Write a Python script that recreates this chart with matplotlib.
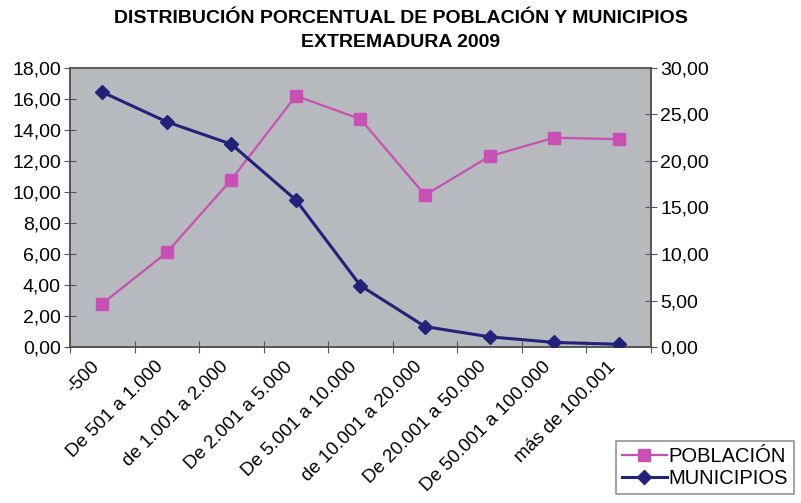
import matplotlib
matplotlib.use("Agg")
import matplotlib.pyplot as plt
import matplotlib.transforms as mtransforms
from matplotlib.ticker import FuncFormatter, MultipleLocator
from matplotlib.lines import Line2D

categories = ["-500", "De 501 a 1.000", "de 1.001 a 2.000", "De 2.001 a 5.000",
              "De 5.001 a 10.000", "de 10.001 a 20.000", "De 20.001 a 50.000",
              "De 50.001 a 100.000", "más de 100.001"]
poblacion = [2.8, 6.1, 10.8, 16.2, 14.7, 9.8, 12.3, 13.5, 13.4]
municipios = [27.4, 24.2, 21.8, 15.8, 6.6, 2.2, 1.1, 0.5, 0.3]

PINK = "#c84fb4"
NAVY = "#22227a"
BG = "#b6b9bd"
AXC = "#555555"

plt.rcParams["font.family"] = ["Liberation Sans", "DejaVu Sans"]

fig = plt.figure(figsize=(8.01, 5.03), dpi=100)
ax = fig.add_axes([0.0874, 0.310, 0.7253, 0.555])
ax2 = ax.twinx()
ax.set_facecolor(BG)
ax.set_zorder(0)
ax2.set_zorder(1)
ax2.patch.set_visible(False)

x = list(range(len(categories)))
ax.plot(x, poblacion, color=PINK, lw=1.6, marker="s", ms=9, mfc=PINK, mec=PINK, zorder=3)
ax2.plot(x, municipios, color=NAVY, lw=2.2, marker="D", ms=7, mfc=NAVY, mec=NAVY, zorder=3)

ax.set_xlim(-0.5, len(categories) - 0.5)
ax.set_ylim(0, 18)
ax2.set_ylim(0, 30)
ax.yaxis.set_major_locator(MultipleLocator(2))
ax2.yaxis.set_major_locator(MultipleLocator(5))
fmt = FuncFormatter(lambda v, p: f"{v:.2f}".replace(".", ","))
ax.yaxis.set_major_formatter(fmt)
ax2.yaxis.set_major_formatter(fmt)

# ticks between categories, labels centred on categories
ax.set_xticks([i - 0.5 for i in range(len(categories) + 1)], minor=False)
ax.set_xticklabels([])
ax.set_xticks(x, minor=True)
ax.set_xticklabels(categories, minor=True, rotation=45, ha="right",
                   rotation_mode="anchor", fontsize=13.5)
ax.tick_params(axis="x", which="minor", length=0, pad=8)
ax.tick_params(axis="x", which="major", direction="inout", length=9, color=AXC)
shift = mtransforms.ScaledTranslation(-12 / 100, 0, fig.dpi_scale_trans)
for lab in ax.get_xticklabels(minor=True):
    lab.set_transform(lab.get_transform() + shift)

ax.tick_params(axis="y", direction="inout", length=9, color=AXC, labelsize=14, pad=2)
ax2.tick_params(axis="y", direction="inout", length=9, color=AXC, labelsize=14, pad=2)

for a in (ax, ax2):
    for s in a.spines.values():
        s.set_color(AXC)
        s.set_linewidth(1.2)
ax.spines["top"].set_color("#888888")

fig.text(0.5, 0.963, "DISTRIBUCIÓN PORCENTUAL DE POBLACIÓN Y MUNICIPIOS",
         ha="center", va="center", fontsize=14, fontweight="bold")
fig.text(0.5, 0.916, "EXTREMADURA 2009",
         ha="center", va="center", fontsize=14, fontweight="bold")

handles = [Line2D([], [], color=PINK, lw=1.6, marker="s", ms=9),
           Line2D([], [], color=NAVY, lw=2.2, marker="D", ms=7)]
leg = fig.legend(handles, ["POBLACIÓN", "MUNICIPIOS"], loc="lower right",
                 bbox_to_anchor=(1.004, -0.002), fontsize=14.5, frameon=True,
                 fancybox=False, handlelength=2.2, handletextpad=0.1,
                 borderpad=0.3, labelspacing=0.15)
leg.get_frame().set_edgecolor("#777777")
leg.get_frame().set_linewidth(1.2)

fig.savefig("out.png", dpi=100)
